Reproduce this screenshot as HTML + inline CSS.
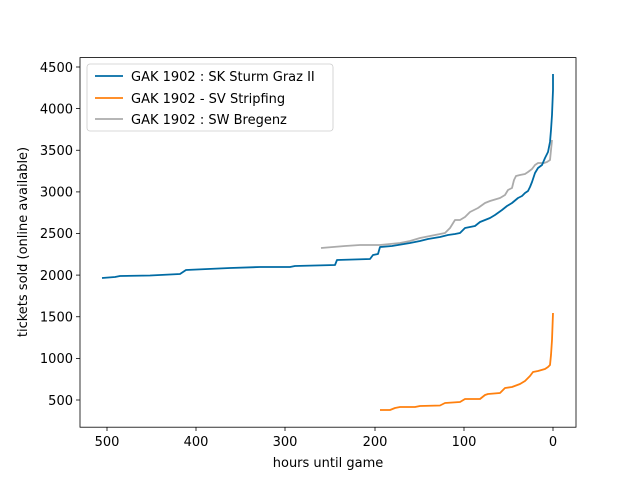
<!DOCTYPE html><html><head><style>body{margin:0;background:#fff}</style></head><body>
<svg width="640" height="480" viewBox="0 0 640 480" xmlns="http://www.w3.org/2000/svg" font-family="DejaVu Sans, Liberation Sans, sans-serif" font-size="13.3">
<rect width="640" height="480" fill="#fff"/>
<g fill="none" stroke-width="1.8" stroke-linejoin="round">
<polyline stroke="#ABABAB" points="321,248 345,246 360,245 380,245 400,243 410,241 420,238 430,236 445,233 450,228 455,220 460,220 465,217 470,212 478,208 485,203 490,201 500,198 505,195 508,190 512,188 514,180 516,176 520,175 525,174 528,172 532,169 535,165 538,163 544,163 547,162 550,160 551,150 552,140"/>
<polyline stroke="#006BA4" points="102,278 115,277 120,276 150,275.5 180,274 186,270 230,268 260,267 290,267 295,266 335,265 337,260 370,259 373,255 378,254 380,247 392,246 398,245 410,243 420,241 428,239 440,237 448,235 455,234 460,233 465,228 475,226 480,222 490,218 495,215 502,210 507,206 512,203 518,198 522,196 525,193 528,191 530,187 532,182 535,173 538,168 542,165 545,158 548,152 550,142 551,130 552,115 553,90 553,74"/>
<polyline stroke="#FF800E" points="380,410 390,410 395,408 400,407 415,407 420,406 440,405.5 445,403 460,402 465,399 480,399 485,395 488,394 500,393 505,388 512,387 520,384 525,381 530,376 533,372 538,371 545,369 548,367 550,365 551,355 552,340 553,313"/>
</g>
<rect x="80" y="57.6" width="496" height="369.6" fill="none" stroke="#000" stroke-width="0.8"/>
<g stroke="#000" stroke-width="0.8">
<line x1="107" y1="427" x2="107" y2="431"/><line x1="196" y1="427" x2="196" y2="431"/><line x1="285" y1="427" x2="285" y2="431"/><line x1="375" y1="427" x2="375" y2="431"/><line x1="464" y1="427" x2="464" y2="431"/><line x1="553" y1="427" x2="553" y2="431"/>
<line x1="76" y1="400" x2="80" y2="400"/><line x1="76" y1="358.4" x2="80" y2="358.4"/><line x1="76" y1="316.75" x2="80" y2="316.75"/><line x1="76" y1="275.1" x2="80" y2="275.1"/><line x1="76" y1="233.5" x2="80" y2="233.5"/><line x1="76" y1="191.9" x2="80" y2="191.9"/><line x1="76" y1="150.25" x2="80" y2="150.25"/><line x1="76" y1="108.6" x2="80" y2="108.6"/><line x1="76" y1="67" x2="80" y2="67"/>
</g>
<g text-anchor="middle" font-size="13">
<text x="107" y="446">500</text><text x="196" y="446">400</text><text x="285" y="446">300</text><text x="375" y="446">200</text><text x="464" y="446">100</text><text x="553" y="446">0</text>
<text x="328" y="467">hours until game</text>
</g>
<g text-anchor="end" font-size="13">
<text x="73" y="405">500</text><text x="73" y="363">1000</text><text x="73" y="321.5">1500</text><text x="73" y="280">2000</text><text x="73" y="238">2500</text><text x="73" y="196.5">3000</text><text x="73" y="155">3500</text><text x="73" y="113.5">4000</text><text x="73" y="72">4500</text>
</g>
<text transform="translate(27,242) rotate(-90)" text-anchor="middle" font-size="13">tickets sold (online available)</text>
<rect x="87" y="64" width="246" height="67" rx="3" fill="#fff" fill-opacity="0.8" stroke="#ccc" stroke-width="0.8"/>
<line x1="95" y1="76" x2="123" y2="76" stroke="#006BA4" stroke-width="1.8"/>
<line x1="95" y1="98" x2="123" y2="98" stroke="#FF800E" stroke-width="1.8"/>
<line x1="95" y1="119" x2="123" y2="119" stroke="#ABABAB" stroke-width="1.8"/>
<text x="131" y="81" font-size="13">GAK 1902 : SK Sturm Graz II</text>
<text x="131" y="103" font-size="13">GAK 1902 - SV Stripfing</text>
<text x="131" y="124" font-size="13">GAK 1902 : SW Bregenz</text>
</svg></body></html>
